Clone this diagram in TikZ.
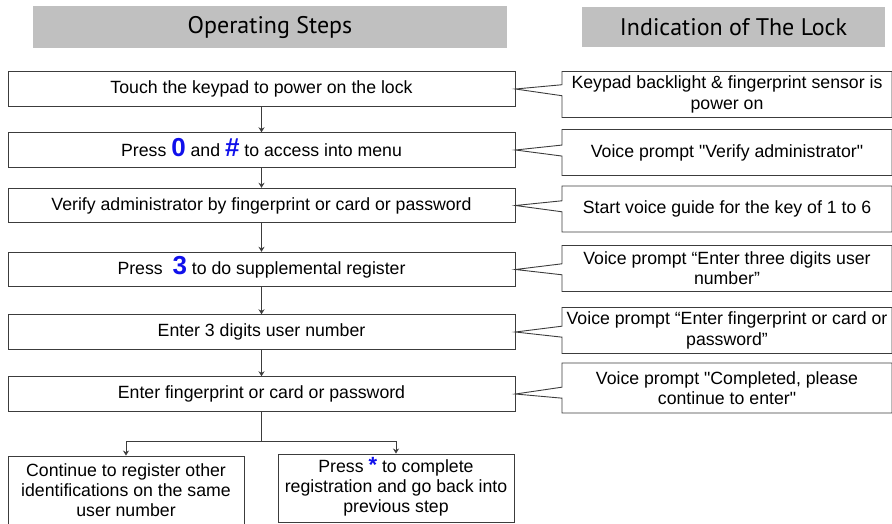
\documentclass[tikz,border=0pt]{standalone}
\usepackage{fontspec}
\setmainfont{Liberation Sans}
\newfontfamily\hdrfont{PT Sans}
\usetikzlibrary{positioning,shapes.callouts,arrows.meta}

\definecolor{hdrgray}{RGB}{192,192,192}
\definecolor{keyblue}{RGB}{16,16,235}
\definecolor{linegray}{RGB}{60,60,60}
\newcommand{\keyb}[1]{\smash{\fontsize{26}{20}\selectfont\bfseries\color{keyblue}#1}}

\begin{document}
\begin{tikzpicture}[->,>={Stealth[length=5pt,width=6pt]},x=1pt,y=1pt,on grid,
    flow/.style={draw=linegray,line width=0.9pt},
    hdrbox/.style={fill=hdrgray,inner sep=0pt,font=\hdrfont\fontsize{24}{26}\selectfont},
    stepbox/.style={draw=linegray,line width=0.9pt,minimum width=507pt,minimum height=34.5pt,
      inner sep=0pt,font=\fontsize{17.7}{20.2}\selectfont},
    callbox/.style={rectangle callout,draw=linegray,line width=0.9pt,callout pointer width=11pt,
      minimum width=330pt,minimum height=46pt,inner sep=2pt,align=center,
      font=\fontsize{17.7}{20.2}\selectfont},
    endbox/.style={draw=linegray,line width=0.9pt,minimum width=236pt,minimum height=68pt,
      inner sep=2pt,align=center,font=\fontsize{17.7}{20.2}\selectfont}]
			\useasboundingbox (0,0) rectangle (892,-523);
			\node[hdrbox,minimum width=474pt,minimum height=42pt] (h1) at (270,-27) {Operating Steps};
			\node[hdrbox,minimum width=303pt,minimum height=40pt] (h2) at (733.5,-27) {Indication of The Lock};
			% steps
			\node[stepbox] (s1) at (261.5,-89) {Touch the keypad to power on the lock};
			\node[stepbox] (s2) [below=61pt of s1] {Press \keyb{0} and \keyb{\#} to access into menu};
			\node[stepbox] (s3) [below=55.5pt of s2] {Verify administrator by fingerprint or card or password};
			\node[stepbox] (s4) [below=64pt of s3] {Press\ \ \keyb{3} to do supplemental register};
			\node[stepbox] (s5) [below=62.5pt of s4] {Enter 3 digits user number};
			\node[stepbox] (s6) [below=62pt of s5] {Enter fingerprint or card or password};
			% lock indications
			\node[callbox,callout absolute pointer={(s1.east)}] (c1) [right=465.5pt of s1,yshift=-5.5pt]
        {Keypad backlight \& fingerprint sensor is\\power on};
			\node[callbox,callout absolute pointer={(s2.east)}] (c2) [right=465.5pt of s2,yshift=-2.5pt]
        {Voice prompt \textquotedbl Verify administrator\textquotedbl};
			\node[callbox,callout absolute pointer={(s3.east)}] (c3) [right=465.5pt of s3,yshift=-3.5pt]
        {Start voice guide for the key of 1 to 6};
			\node[callbox,callout absolute pointer={(s4.east)}] (c4) [right=465.5pt of s4,yshift=1pt]
        {Voice prompt “Enter three digits user\\number”};
			\node[callbox,callout absolute pointer={(s5.east)}] (c5) [right=465.5pt of s5,yshift=1.5pt]
        {Voice prompt “Enter fingerprint or card or\\password”};
			\node[callbox,minimum height=50pt,callout absolute pointer={(s6.east)}] (c6) [right=465.5pt of s6,yshift=6pt]
        {Voice prompt \textquotedbl Completed, please\\continue to enter\textquotedbl};
			% branch
			\coordinate[below=47pt of s6] (br);
			\node[endbox] (e1) at (126,-490)
        {Continue to register other\\identifications on the same\\user number};
			\node[endbox] (e2) at (396,-488)
        {Press \keyb{\fontsize{22}{20}\selectfont*} to complete\\registration and go back into\\previous step};
			\foreach \a/\b in {s1/s2,s2/s3,s3/s4,s4/s5,s5/s6}
        \draw[flow] (\a) -- (\b);
			\draw[flow,-] (s6) -- (br);
			\draw[flow] (br) -| (e1);
			\draw[flow] (br) -| (e2);
		\end{tikzpicture}
\end{document}
